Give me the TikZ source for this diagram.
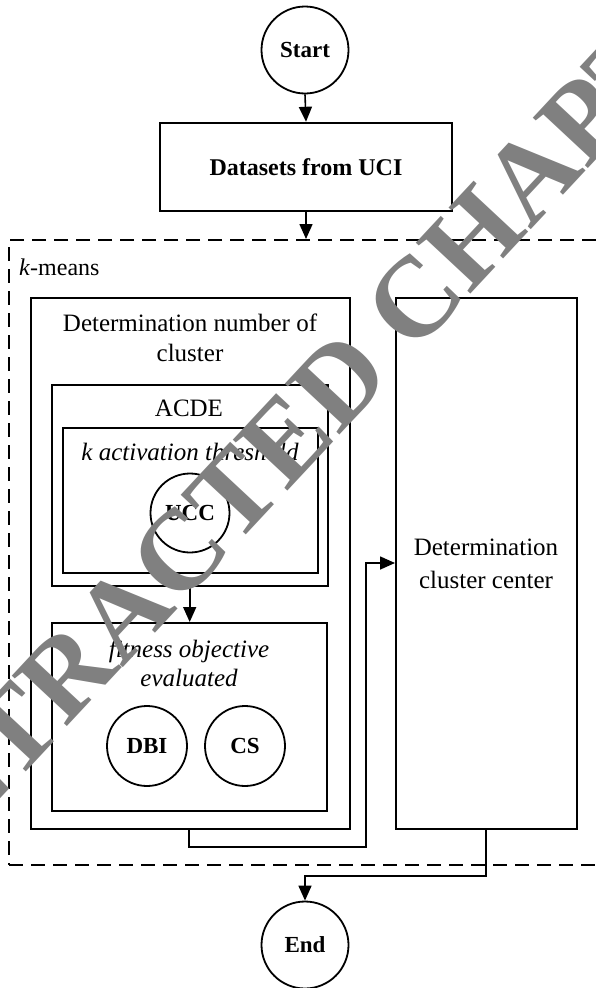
\documentclass[tikz,border=0pt]{standalone}
\usepackage{fontspec}
\setmainfont{Liberation Serif}
\usetikzlibrary{arrows.meta,calc}
\definecolor{wmgray}{RGB}{128,128,128}
\tikzset{
  box/.style={draw, line width=2.4pt, rectangle, inner sep=0pt},
  circ/.style={draw, line width=1.8pt, circle, inner sep=0pt, font=\fontsize{23}{25}\selectfont\bfseries},
  lbl/.style={inner sep=0pt, align=center, font=\fontsize{25}{30}\selectfont},
  conn/.style={line width=1.6pt, -{Triangle[length=15pt,width=13pt]}},
  dashbox/.style={draw, line width=2.2pt, dash pattern=on 14pt off 8pt, rectangle, inner sep=0pt},
  wm/.style={inner sep=0pt, text=wmgray, font=\fontsize{114}{114}\selectfont\bfseries}
}
\begin{document}
\begin{tikzpicture}[x=1pt,y=-1pt]
\useasboundingbox (0,0) rectangle (596,988);
% top
\node[circ, minimum size=87pt] (start) at (305,50) {Start};
\node[box, minimum width=292pt, minimum height=88pt] (data) at (306,167) {};
\node[lbl, font=\fontsize{24}{27}\selectfont\bfseries] (datat) at (306,167) {Datasets from UCI};
% dashed k-means box
\node[dashbox, minimum width=597pt, minimum height=625pt, anchor=north west] (km) at (8,239) {};
\node[lbl, font=\fontsize{24}{27}\selectfont, anchor=west] (kmt) at (19,267) {\textit{k}-means};
% left block
\node[box, minimum width=319pt, minimum height=531pt, anchor=north west] (left) at (30,297) {};
\node[lbl] (leftt) at (190,338) {Determination number of\\cluster};
\node[box, minimum width=276pt, minimum height=201pt, anchor=north west] (acde) at (51,384) {};
\node[lbl] (acdet) at (189,408) {ACDE};
\node[box, minimum width=255pt, minimum height=145pt, anchor=north west] (kact) at (62,427) {};
\node[lbl, font=\fontsize{25}{29}\selectfont\itshape] (kactt) at (190,452) {k activation threshold};
\node[circ, minimum size=79pt] (ucc) at (190,513) {UCC};
\node[box, minimum width=275pt, minimum height=188pt, anchor=north west] (fit) at (51,622) {};
\node[lbl, font=\fontsize{25}{29}\selectfont\itshape] (fitt) at (189,663) {fitness objective\\evaluated};
\node[circ, minimum size=80pt] (dbi) at (147,746) {DBI};
\node[circ, minimum size=80pt] (cs) at (245,746) {CS};
% right block
\node[box, minimum width=181pt, minimum height=531pt, anchor=north west] (right) at (395,297) {};
\node[lbl, font=\fontsize{25}{33}\selectfont] (rightt) at (486,564) {Determination\\cluster center};
% end
\node[circ, minimum size=87pt] (end) at (305,945) {End};
% connectors
\draw[conn] (start.south) -- (data.north);
\draw[conn] (data.south) -- (data.south |- km.north);
\draw[conn] (acde.south -| fit.north) -- (fit.north);
\coordinate (lb) at (189,828);
\coordinate (rin) at (395,563);
\draw[conn] (lb) -- (189,847) -- (366,847) -- (366,563) -- (rin);
\coordinate (rb) at (486,828);
\draw[conn] (rb) -- (486,876) -- (305,876) -- (end.north);
% watermark
\node[wm, rotate=47, anchor=base west] (wmark) at (-94,900) {RETRACTED CHAPTER};
\end{tikzpicture}
\end{document}
